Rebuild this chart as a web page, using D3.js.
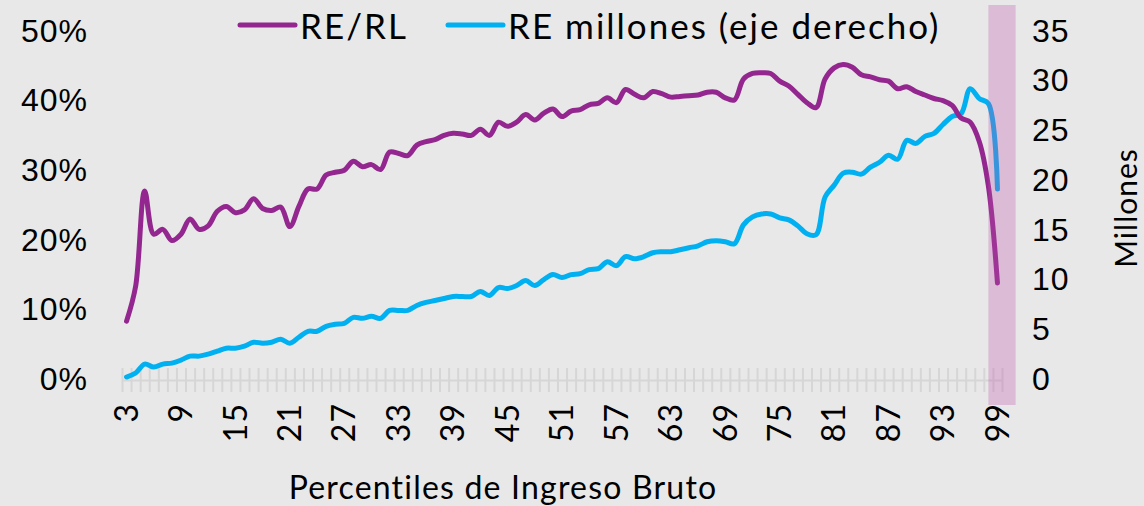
<!DOCTYPE html>
<html lang="es">
<head>
    <meta charset="UTF-8">
    <title>RE/RL por percentil</title>
    <script src="https://d3js.org/d3.v7.min.js"></script>
    <style>
        body { margin: 0; background: #e8e8e8; }
        svg { display: block; font-family: "Lato", "DejaVu Sans", sans-serif; }
        .line { fill: none; stroke-width: 5; stroke-linejoin: round; stroke-linecap: round; }
        .tick-label { font-size: 32px; letter-spacing: 1px; fill: #000; }
    </style>
</head>
<body>
    <svg width="1144" height="506"></svg>
    <script>
        // Percentiles de ingreso bruto (3..99)
        const percentiles = d3.range(3, 100);

        // RE/RL (%) por percentil
        const reRl = [
            8.3, 13.3, 27.0, 20.8, 21.5, 19.9, 20.8, 23.0, 21.5, 22.0,
            24.1, 24.8, 23.9, 24.3, 25.9, 24.5, 24.2, 24.7, 21.9, 24.8,
            27.3, 27.3, 29.3, 29.7, 30.0, 31.3, 30.5, 30.8, 30.1, 32.6,
            32.4, 32.1, 33.6, 34.1, 34.4, 35.0, 35.3, 35.2, 35.0, 35.9,
            35.0, 36.9, 36.3, 36.9, 38.0, 37.2, 38.2, 38.8, 37.7, 38.5,
            38.7, 39.4, 39.6, 40.4, 39.7, 41.6, 40.9, 40.4, 41.3, 41.0,
            40.5, 40.6, 40.7, 40.8, 41.2, 41.2, 40.4, 40.1, 43.1, 43.9,
            44.0, 43.9, 42.8, 42.1, 40.9, 39.7, 39.0, 43.1, 44.7, 45.2,
            44.8, 43.7, 43.4, 43.0, 42.8, 41.7, 42.0, 41.3, 40.8, 40.3,
            40.0, 39.3, 37.5, 36.9, 34.1, 27.7, 13.8
        ];

        // RE en millones (eje derecho)
        const reMillones = [
            0.2, 0.6, 1.5, 1.2, 1.5, 1.6, 1.9, 2.3, 2.3, 2.5,
            2.8, 3.1, 3.1, 3.3, 3.7, 3.6, 3.7, 4.0, 3.6, 4.2,
            4.8, 4.8, 5.3, 5.5, 5.6, 6.2, 6.1, 6.3, 6.1, 6.9,
            6.9, 6.9, 7.4, 7.7, 7.9, 8.1, 8.3, 8.3, 8.3, 8.8,
            8.4, 9.2, 9.1, 9.4, 9.9, 9.4, 10.0, 10.5, 10.2, 10.5,
            10.6, 11.0, 11.1, 11.8, 11.4, 12.3, 12.1, 12.3, 12.7, 12.8,
            12.8, 13.0, 13.2, 13.4, 13.8, 13.9, 13.8, 13.6, 15.5, 16.3,
            16.6, 16.6, 16.2, 16.0, 15.4, 14.6, 14.5, 18.3, 19.5, 20.7,
            20.8, 20.6, 21.3, 21.8, 22.5, 22.1, 24.0, 23.7, 24.4, 24.7,
            25.6, 26.4, 26.7, 29.2, 28.2, 27.7, 19.1
        ];

        const xLabels = d3.range(3, 100, 6);
        const leftTicks = [0, 0.1, 0.2, 0.3, 0.4, 0.5];
        const rightTicks = [0, 5, 10, 15, 20, 25, 30, 35];
        const highlight = [98, 101];

        const purple = "#93278f";
        const blue = "#00b0f0";

        const svg = d3.select("svg");
        const margin = { top: 31, right: 142, bottom: 127, left: 122 };
        const width = +svg.attr("width") - margin.left - margin.right;
        const height = +svg.attr("height") - margin.top - margin.bottom;

        svg.append("rect")
            .attr("width", 1144).attr("height", 506)
            .attr("fill", "#e8e8e8");

        const g = svg.append("g")
            .attr("transform", `translate(${margin.left},${margin.top})`);

        // Scales
        const x = d3.scaleLinear()
            .domain([2.5, 99.5])
            .range([0, width]);

        const yLeft = d3.scaleLinear()
            .domain([0, 0.5])
            .range([height, 0]);

        const yRight = d3.scaleLinear()
            .domain([0, 35])
            .range([height, 0]);

        // Category axis: tick marks between categories, crossing the axis line
        const xAxis = g.append("g")
            .attr("transform", `translate(0,${height + 1})`)
            .call(d3.axisBottom(x)
                .tickValues(d3.range(2.5, 100, 1))
                .tickSizeInner(12)
                .tickSizeOuter(0)
                .tickFormat(""));
        xAxis.select(".domain").attr("stroke", "#d6d6d6").attr("stroke-width", 2);
        xAxis.selectAll(".tick line")
            .attr("stroke", "#d6d6d6")
            .attr("stroke-width", 2)
            .attr("y1", -12);

        // Rotated category labels
        g.append("g")
            .selectAll("text")
            .data(xLabels)
            .join("text")
            .attr("class", "tick-label")
            .attr("transform", d => `translate(${x(d)},${height + 24}) rotate(-90)`)
            .attr("dy", "0.35em")
            .attr("text-anchor", "end")
            .text(d => d);

        // Left axis labels
        g.append("g")
            .call(d3.axisLeft(yLeft)
                .tickValues(leftTicks)
                .tickFormat(d3.format(".0%"))
                .tickSize(0)
                .tickPadding(34))
            .call(a => a.select(".domain").remove())
            .selectAll("text")
            .attr("class", "tick-label")
            .attr("font-family", null)
            .attr("font-size", null);

        // Right axis labels
        g.append("g")
            .attr("transform", `translate(${width},0)`)
            .call(d3.axisRight(yRight)
                .tickValues(rightTicks)
                .tickSize(0)
                .tickPadding(30))
            .call(a => a.select(".domain").remove())
            .selectAll("text")
            .attr("class", "tick-label")
            .attr("font-family", null)
            .attr("font-size", null);

        // Lines (smoothed like the original)
        const lineLeft = d3.line()
            .x((d, i) => x(percentiles[i]))
            .y(d => yLeft(d / 100))
            .curve(d3.curveCatmullRom.alpha(0.5));

        const lineRight = d3.line()
            .x((d, i) => x(percentiles[i]))
            .y(d => yRight(d))
            .curve(d3.curveCatmullRom.alpha(0.5));

        g.append("path")
            .datum(reMillones)
            .attr("class", "line")
            .attr("stroke", blue)
            .attr("d", lineRight);

        g.append("path")
            .datum(reRl)
            .attr("class", "line")
            .attr("stroke", purple)
            .attr("d", lineLeft);

        // Highlighted top percentile band
        g.append("rect")
            .attr("x", x(highlight[0]))
            .attr("width", x(highlight[1]) - x(highlight[0]))
            .attr("y", -26)
            .attr("height", height + 26 + 26)
            .attr("fill", "#bd52ac")
            .attr("opacity", 0.3);

        // Axis titles
        svg.append("text")
            .attr("x", 503)
            .attr("y", 499)
            .attr("text-anchor", "middle")
            .attr("font-size", "32px")
            .attr("letter-spacing", "1.2px")
            .text("Percentiles de Ingreso Bruto");

        svg.append("text")
            .attr("transform", "translate(1126,208) rotate(-90)")
            .attr("dy", "0.35em")
            .attr("text-anchor", "middle")
            .attr("font-size", "30px")
            .attr("letter-spacing", "1px")
            .text("Millones");

        // Legend
        const legend = svg.append("g");
        const items = [
            { label: "RE/RL", color: purple, x: 240 },
            { label: "RE millones (eje derecho)", color: blue, x: 448 }
        ];
        items.forEach(it => {
            legend.append("line")
                .attr("x1", it.x).attr("x2", it.x + 55)
                .attr("y1", 25).attr("y2", 25)
                .attr("stroke", it.color)
                .attr("stroke-width", 5)
                .attr("stroke-linecap", "round");
            legend.append("text")
                .attr("x", it.x + 60)
                .attr("y", 39)
                .attr("font-size", "35px")
                .attr("letter-spacing", "2px")
                .text(it.label);
        });
    </script>
</body>
</html>
